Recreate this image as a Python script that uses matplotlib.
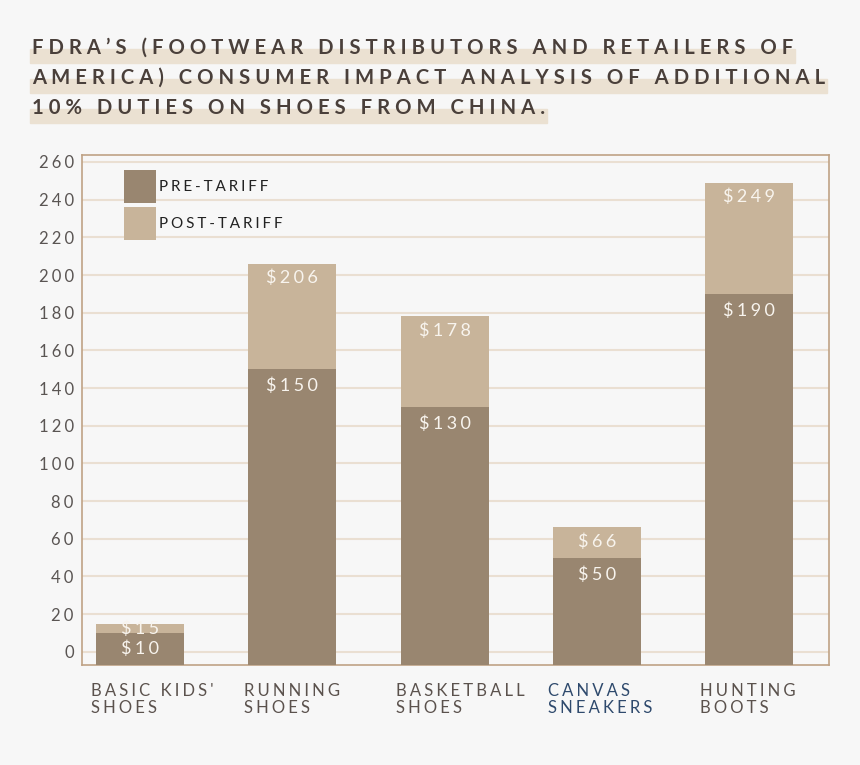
import matplotlib.pyplot as plt
from matplotlib.patches import Rectangle

# data
categories = [["BASIC KIDS'", "SHOES"], ["RUNNING", "SHOES"], ["BASKETBALL", "SHOES"],
              ["CANVAS", "SNEAKERS"], ["HUNTING", "BOOTS"]]
pre_tariff = [10, 150, 130, 50, 190]
post_tariff = [15, 206, 178, 66, 249]
yticks = list(range(0, 261, 20))
title_lines = ["FDRA\u2019S (FOOTWEAR DISTRIBUTORS AND RETAILERS OF",
               "AMERICA) CONSUMER IMPACT ANALYSIS OF ADDITIONAL",
               "10% DUTIES ON SHOES FROM CHINA."]

PRE = "#998670"
POST = "#c8b49a"
BG = "#f7f7f7"
FAM = ["Lato", "DejaVu Sans"]
TH, HR = "\u2009", "\u200a"


def spaced(s, gap=TH):
    # fake letter spacing
    return gap.join(s)


plt.rcParams['font.family'] = FAM
fig = plt.figure(figsize=(8.6, 7.65), dpi=100, facecolor=BG)
ax = fig.add_axes([82 / 860, 1 - 665 / 765, (829 - 82) / 860, (665 - 155) / 765])
ax.set_facecolor(BG)

y0 = -7
ax.set_ylim(y0, 263.7)
ax.set_xlim(-0.381, 4.525)
x = list(range(len(categories)))
w = 0.578

post_h = [v - y0 for v in post_tariff]
pre_h = [v - y0 for v in pre_tariff]
b_post = ax.bar(x, post_h, w, bottom=y0, color=POST, zorder=3, label=spaced("POST-TARIFF", TH + HR))
b_pre = ax.bar(x, pre_h, w, bottom=y0, color=PRE, zorder=3, label=spaced("PRE-TARIFF", TH + HR))

# value labels: a bit below the top of each segment, centred if the segment is small
for i in x:
    ypost = max(post_tariff[i] - 7.5, (post_tariff[i] + pre_tariff[i]) / 2)
    ypre = max(pre_tariff[i] - 9, (pre_tariff[i] + y0) / 2)
    ax.text(i, ypost, spaced(f"${post_tariff[i]}", TH + HR), ha="center", va="center",
            color="#f8f4ee", fontsize=13, zorder=5)
    ax.text(i, ypre, spaced(f"${pre_tariff[i]}", TH + HR), ha="center", va="center",
            color="#f8f4ee", fontsize=13, zorder=5)

ax.set_yticks(yticks)
ax.set_yticklabels([spaced(str(t), TH + HR) for t in yticks], color="#5a5553", fontsize=12)
ax.tick_params(axis="y", length=0, pad=6)
ax.set_xticks([])
ax.grid(axis="y", color="#eadfd2", linewidth=1.5, zorder=0)
for s in ax.spines.values():
    s.set_color("#bfa285")
    s.set_linewidth(1.2)

# category labels under the bars
for i, (l1, l2) in enumerate(categories):
    col = "#2f4a6d" if i == 3 else "#5b524d"
    ax.text(i - w / 2 - 0.03, -0.035, spaced(l1, TH + HR) + "\n" + spaced(l2, TH + HR),
            transform=ax.get_xaxis_transform(), ha="left", va="top",
            fontsize=12, color=col, linespacing=1.1)

leg = ax.legend(handles=[b_pre, b_post], loc="upper left", bbox_to_anchor=(0.038, 0.998),
                frameon=False, fontsize=11, handlelength=2.1, handleheight=3.0,
                handletextpad=0.2, labelspacing=0.22, labelcolor="#222222")

# title with highlighter bands
ys = [48, 78, 108]
texts = []
for line, yy in zip(title_lines, ys):
    t = fig.text(32 / 860, 1 - yy / 765, spaced(line, TH + HR + HR), ha="left", va="center",
                 fontsize=14.6, fontweight="bold", color="#4a403b", zorder=3)
    texts.append(t)

fig.canvas.draw()
r = fig.canvas.get_renderer()
for t, yy in zip(texts, ys):
    bb = t.get_window_extent(r)
    x0 = bb.x0 / 860 - 2 / 860
    wd = (bb.x1 - bb.x0 + 4) / 860
    fig.add_artist(Rectangle((x0, 1 - (yy + 15) / 765), wd, 14 / 765,
                             transform=fig.transFigure, color="#ebe1d2", zorder=1))

fig.savefig("out.png", dpi=100, facecolor=BG)
